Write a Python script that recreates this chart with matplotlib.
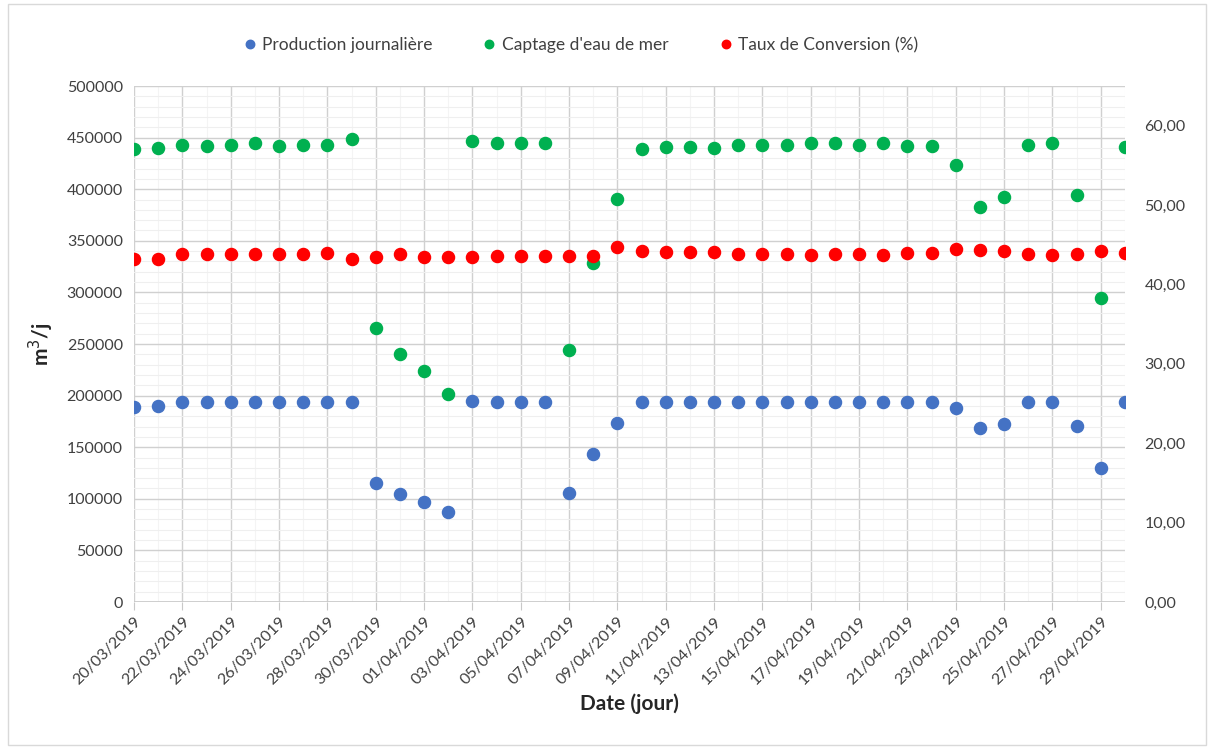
import numpy as np
import pandas as pd
import matplotlib
matplotlib.use('Agg')
import matplotlib.pyplot as plt
from matplotlib.ticker import MultipleLocator, FuncFormatter
from matplotlib.patches import Rectangle

plt.rcParams['font.family'] = ['Lato', 'DejaVu Sans']

# daily dates, 20/03/2019 -> 30/04/2019
dates = pd.date_range('2019-03-20', '2019-04-30', freq='D')
date_labels = [d.strftime('%d/%m/%Y') for d in dates]

production = [189200, 190000, 193500, 193500, 193500, 193500, 193500, 193500, 193500, 193500,
              115000, 104700, 97200, 86900, 194500, 193500, 193500, 193500, 105600, 143100,
              173700, 193500, 193500, 193500, 193500, 193500, 193500, 193500, 193500, 193500,
              193500, 193500, 193500, 193500, 188000, 169000, 172000, 193500, 193500, 171000,
              130000, 193500]

captage = [439200, 440200, 442900, 442200, 443200, 444400, 442200, 443200, 443200, 448600,
           265200, 240600, 224100, 201200, 446700, 445000, 444500, 444500, 244600, 328800,
           390800, 439300, 441200, 441200, 439900, 443100, 443100, 443100, 444500, 444500,
           443100, 444500, 442200, 442200, 423500, 382500, 392800, 443100, 444500, 394700,
           294900, 441200]

conversion = [43.24, 43.24, 43.83, 43.83, 43.83, 43.83, 43.83, 43.83, 44.00, 43.24,
              43.49, 43.90, 43.49, 43.49, 43.49, 43.62, 43.62, 43.62, 43.62, 43.62,
              44.75, 44.20, 44.08, 44.08, 44.08, 43.83, 43.83, 43.83, 43.66, 43.83,
              43.83, 43.66, 43.95, 43.95, 44.46, 44.33, 44.20, 43.83, 43.66, 43.83,
              44.20, 44.00]

BLUE = '#4472C4'
GREEN = '#00B050'
RED = '#FF0000'

x = np.arange(len(dates))

fig = plt.figure(figsize=(12.16, 7.49), dpi=100)
ax = fig.add_axes([134 / 1216, 1 - 602 / 749, (1125 - 134) / 1216, (602 - 86) / 749])
ax2 = ax.twinx()

# gridlines
ax.yaxis.set_major_locator(MultipleLocator(50000))
ax.yaxis.set_minor_locator(MultipleLocator(10000))
ax.xaxis.set_major_locator(MultipleLocator(2))
ax.xaxis.set_minor_locator(MultipleLocator(1))
ax.grid(which='major', color='#d0d0d0', linewidth=1.0)
ax.grid(which='minor', axis='y', color='#efefef', linewidth=0.8)
ax.grid(which='minor', axis='x', color='#f4f4f4', linewidth=0.8)
ax.set_axisbelow(True)

ms = 8.7
p1, = ax.plot(x, production, 'o', color=BLUE, markersize=ms, label='Production journalière', zorder=3)
p2, = ax.plot(x, captage, 'o', color=GREEN, markersize=ms, label="Captage d'eau de mer", zorder=3)
p3, = ax2.plot(x, conversion, 'o', color=RED, markersize=ms, label='Taux de Conversion (%)', zorder=3)

ax.set_xlim(0, 41)
ax.set_ylim(0, 500000)
ax2.set_ylim(0, 65)
ax2.set_yticks(np.arange(0, 61, 10))
ax2.yaxis.set_major_formatter(FuncFormatter(lambda v, pos: ('%.2f' % v).replace('.', ',')))

ax.set_xticks(x[::2])
ax.set_xticklabels(date_labels[::2], rotation=45, ha='right', rotation_mode='anchor')
ax.set_xticks(x, minor=True)

for a in (ax, ax2):
    for side in ('top', 'left', 'right', 'bottom'):
        a.spines[side].set_visible(False)

ax.axhline(0, color='#c8c8c8', linewidth=1.2, zorder=2)
ax.tick_params(axis='x', which='major', length=6, color='#c8c8c8', labelsize=11.5,
               labelcolor='#404040', pad=3)
ax.tick_params(axis='x', which='minor', length=0)
ax.tick_params(axis='y', which='both', length=0, labelsize=11.5, labelcolor='#404040', pad=8)
ax2.tick_params(axis='y', length=0, labelsize=11.5, labelcolor='#404040', pad=14)

ax.set_ylabel('m$^3$/j', fontsize=15, fontweight='bold', color='#262626', labelpad=8)
ax.set_xlabel('Date (jour)', fontsize=15, fontweight='bold', color='#262626', labelpad=4)

fig.legend(handles=[p1, p2, p3], loc='center', bbox_to_anchor=(575 / 1216, 1 - 45 / 749),
           ncol=3, frameon=False, fontsize=12.5, handletextpad=-0.3, columnspacing=2.3,
           markerscale=0.7, labelcolor='#404040')

fig.patches.append(Rectangle((8 / 1216, 4 / 749), 1198 / 1216, 741 / 749, transform=fig.transFigure,
                             fill=False, edgecolor='#d9d9d9', linewidth=1.0))

fig.savefig('out.png', dpi=100, facecolor='white')
